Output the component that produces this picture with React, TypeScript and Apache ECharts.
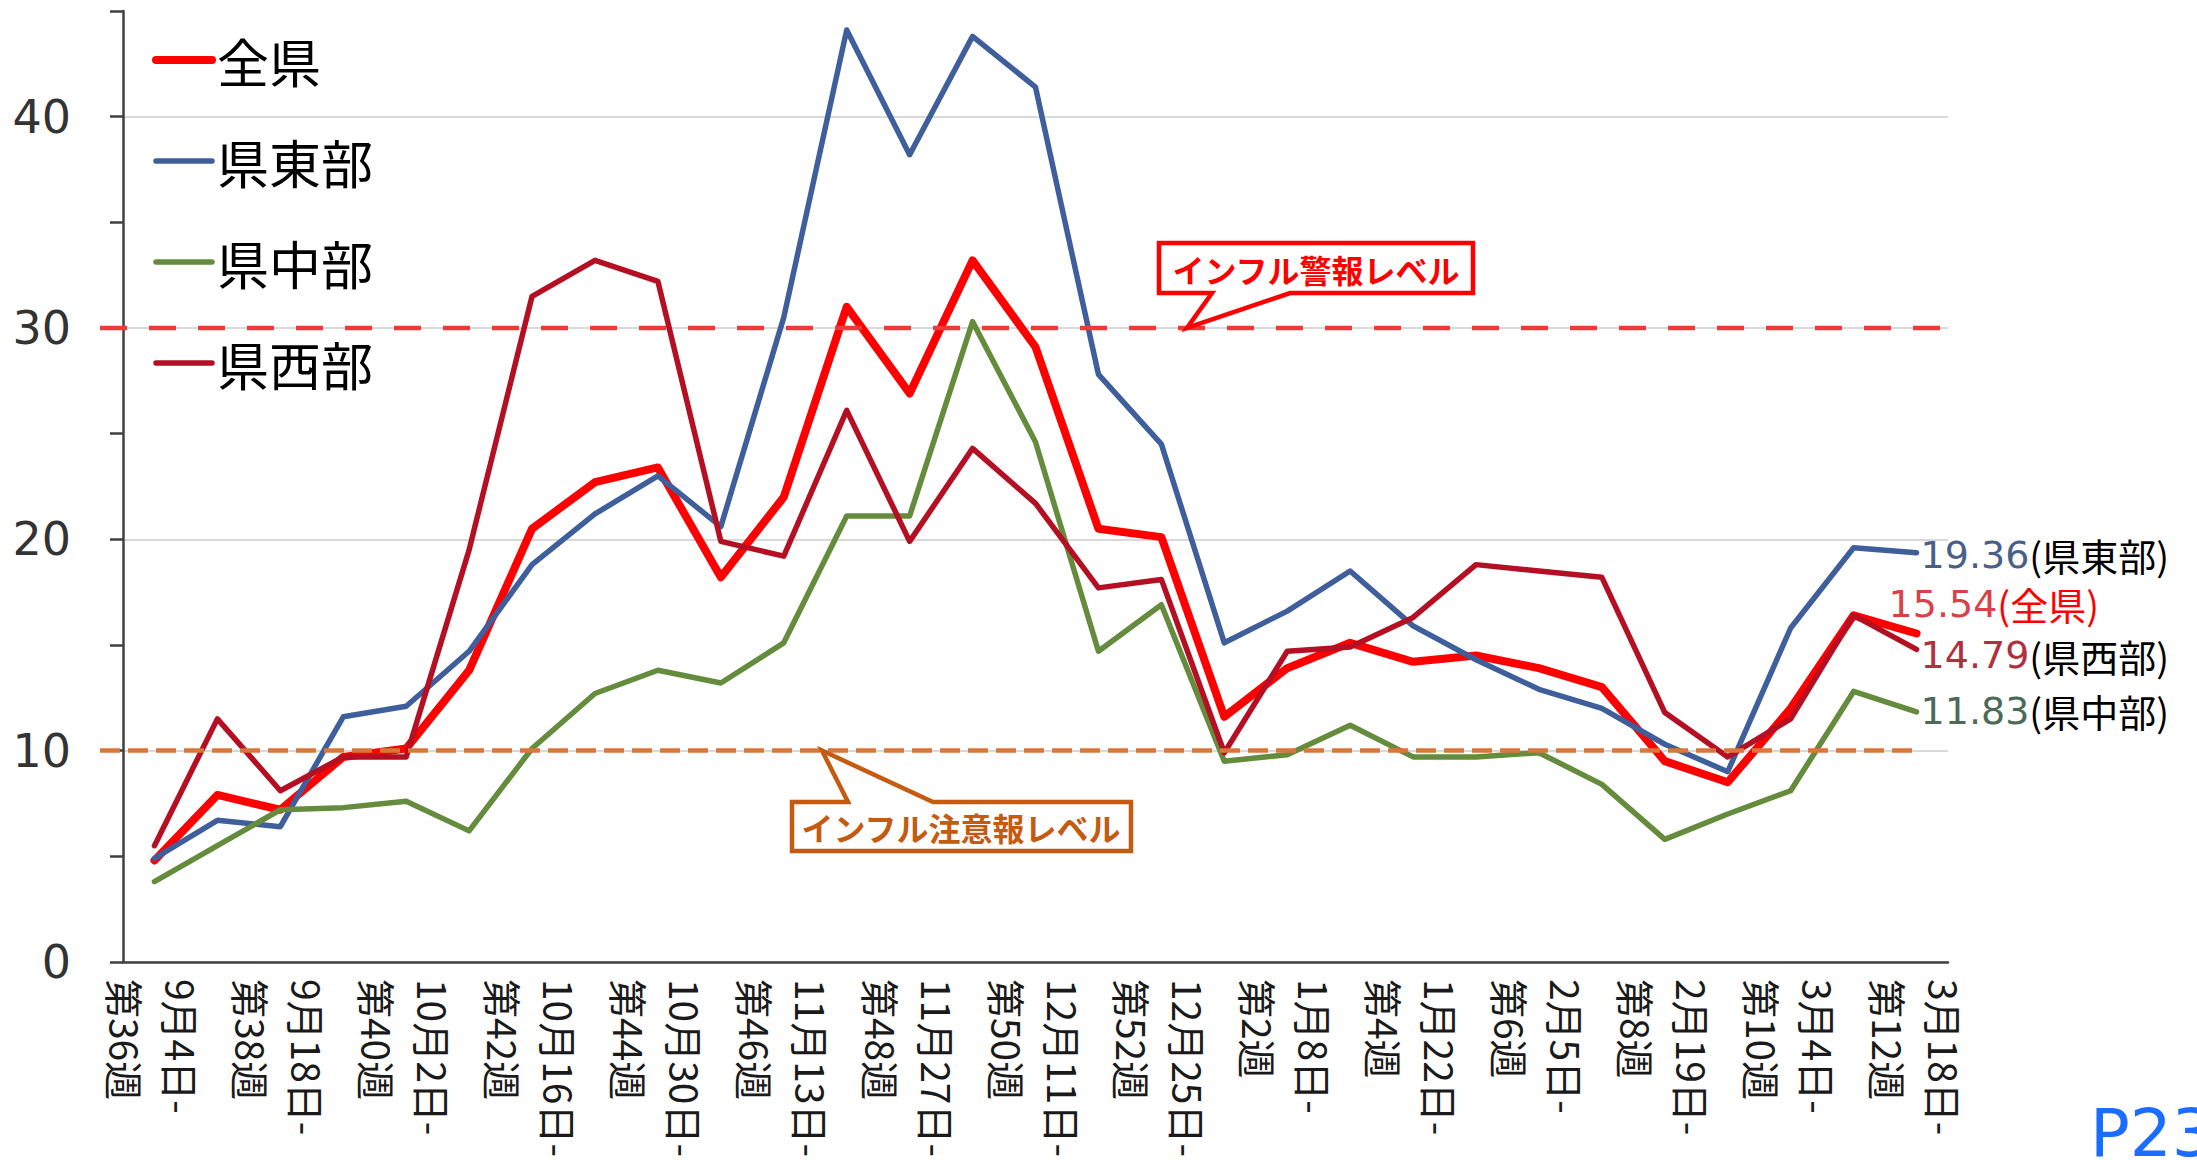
import React, { useEffect, useRef } from "react";
import * as echarts from "echarts";

// ---- data ----
const weekLabels = [
  "第36週", "第37週", "第38週", "第39週", "第40週", "第41週", "第42週", "第43週", "第44週",
  "第45週", "第46週", "第47週", "第48週", "第49週", "第50週", "第51週", "第52週",
  "第1週", "第2週", "第3週", "第4週", "第5週", "第6週", "第7週", "第8週", "第9週",
  "第10週", "第11週", "第12週",
];
const dateLabels = [
  "9月4日-", "9月11日-", "9月18日-", "9月25日-", "10月2日-", "10月9日-", "10月16日-",
  "10月23日-", "10月30日-", "11月6日-", "11月13日-", "11月20日-", "11月27日-", "12月4日-",
  "12月11日-", "12月18日-", "12月25日-", "1月1日-", "1月8日-", "1月15日-", "1月22日-",
  "1月29日-", "2月5日-", "2月12日-", "2月19日-", "2月26日-", "3月4日-", "3月11日-", "3月18日-",
];

const zenken = [4.8, 7.9, 7.2, 9.7, 10.1, 13.8, 20.5, 22.7, 23.4, 18.2, 22.0, 31.0, 26.9, 33.2, 29.1,
  20.5, 20.1, 11.6, 13.9, 15.1, 14.2, 14.5, 13.9, 13.0, 9.5, 8.5, 12.0, 16.4, 15.54];
const tobu = [4.9, 6.7, 6.4, 11.6, 12.1, 14.7, 18.8, 21.2, 23.0, 20.6, 30.5, 44.1, 38.2, 43.8, 41.4,
  27.8, 24.5, 15.1, 16.6, 18.5, 15.9, 14.3, 12.9, 12.0, 10.3, 9.0, 15.8, 19.6, 19.36];
const chubu = [3.8, 5.5, 7.2, 7.3, 7.6, 6.2, 10.1, 12.7, 13.8, 13.2, 15.1, 21.1, 21.1, 30.3, 24.6,
  14.7, 16.9, 9.5, 9.8, 11.2, 9.7, 9.7, 9.9, 8.4, 5.8, 7.0, 8.1, 12.8, 11.83];
const seibu = [5.5, 11.5, 8.1, 9.7, 9.7, 19.5, 31.5, 33.2, 32.2, 19.9, 19.2, 26.1, 19.9, 24.3, 21.7,
  17.7, 18.1, 9.9, 14.7, 14.9, 16.3, 18.8, 18.5, 18.2, 11.8, 9.7, 11.5, 16.4, 14.79];

const seriesNames = ["全県", "県東部", "県中部", "県西部"];
const warningLevel = 30;
const advisoryLevel = 10;
const yTicks = { min: 0, max: 45, step: 5, labelStep: 10 };

const CJK = "'Noto Sans CJK JP', 'Noto Sans', sans-serif";
const LAT = "'DejaVu Sans', sans-serif";

export default function App() {
  const ref = useRef<HTMLDivElement>(null);
  useEffect(() => {
    const chart = echarts.init(ref.current!, null, { renderer: "svg" });
    const endLabel = (vals: number[], name: string, numColor: string, nameColor: string, offset: number[]) => ({
      show: true,
      distance: 4,
      offset,
      formatter: () => `{v|${vals[vals.length - 1].toFixed(2)}}{s|(${name})}`,
      rich: {
        v: { fontFamily: LAT, fontSize: 38, lineHeight: 34, color: numColor },
        s: { fontFamily: CJK, fontSize: 38, lineHeight: 34, color: nameColor },
      },
    });
    const mk = (name: string, data: number[], color: string, width: number, lbl: any) => ({
      name,
      type: "line",
      data,
      symbol: "none",
      showSymbol: false,
      lineStyle: { color, width, join: "round", cap: "round" },
      itemStyle: { color },
      endLabel: lbl,
      labelLayout: { hideOverlap: false },
    });
    const option: any = {
      animation: false,
      backgroundColor: "#fff",
      grid: { left: 123, right: 249, top: 11, bottom: 189, containLabel: false },
      legend: {
        orient: "vertical",
        left: 152,
        top: 34,
        padding: 0,
        itemGap: 49,
        itemWidth: 56,
        itemHeight: 20,
        data: seriesNames,
        lineStyle: { width: "inherit" },
        itemStyle: { opacity: 0, color: "transparent", borderWidth: 0 },
        textStyle: { fontFamily: CJK, fontSize: 52, color: "#000" },
      },
      xAxis: {
        type: "category",
        data: weekLabels,
        boundaryGap: true,
        axisLine: { lineStyle: { color: "#404040", width: 2.5 } },
        axisTick: { interval: 0, alignWithLabel: false, length: 10, lineStyle: { color: "#404040", width: 2.5 } },
        axisLabel: {
          interval: 1,
          rotate: -90,
          margin: 17,
          fontFamily: CJK,
          fontSize: 39,
          lineHeight: 56,
          color: "#1a1a1a",
          formatter: (_v: string, i: number) => `${dateLabels[i]}\n${weekLabels[i]}`,
        },
        splitLine: { show: false },
      },
      yAxis: {
        type: "value",
        min: yTicks.min,
        max: yTicks.max,
        interval: yTicks.step,
        axisLine: { show: true, lineStyle: { color: "#404040", width: 2.5 } },
        axisTick: { show: true, length: 13, lineStyle: { color: "#404040", width: 2.5 } },
        axisLabel: {
          margin: 52,
          fontFamily: LAT,
          fontSize: 46,
          color: "#333",
          formatter: (v: number) => (v % yTicks.labelStep === 0 && v < yTicks.max ? String(v) : ""),
        },
        splitLine: { show: true, lineStyle: { color: ["#d9d9d9", "transparent"], width: 2 } },
      },
      series: [
        mk("全県", zenken, "#FF0000", 8, endLabel(zenken, "全県", "#D8404A", "#FF0000", [-32, -30])),
        mk("県東部", tobu, "#3F5E9C", 5.5, endLabel(tobu, "県東部", "#4A5F88", "#000", [0, 2])),
        mk("県中部", chubu, "#648C3C", 5.5, endLabel(chubu, "県中部", "#4C6A58", "#000", [0, -1])),
        mk("県西部", seibu, "#B40F23", 5.5, endLabel(seibu, "県西部", "#B0303E", "#000", [0, 6])),
      ],
    };
    chart.setOption(option);

    const y30 = chart.convertToPixel({ yAxisIndex: 0 }, warningLevel) as number;
    const y10 = chart.convertToPixel({ yAxisIndex: 0 }, advisoryLevel) as number;
    const red = "#FF0000";
    const orange = "#C55A11";
    chart.setOption({
      graphic: [
        { type: "line", z: 100, shape: { x1: 100, y1: y30, x2: 1948, y2: y30 }, style: { stroke: "#F03A3A", lineWidth: 4.5, lineDash: [27, 22] } },
        { type: "line", z: 100, shape: { x1: 100, y1: y10, x2: 1920, y2: y10 }, style: { stroke: "#D9773A", lineWidth: 4.5, lineDash: [20, 8] } },
        {
          type: "polygon", z: 110,
          shape: { points: [[1159, 243], [1473, 243], [1473, 293], [1290, 293], [1187, y30], [1212, 293], [1159, 293]] },
          style: { fill: "#fff", stroke: red, lineWidth: 4.5, lineJoin: "miter" },
        },
        {
          type: "text", z: 111, x: 1316, y: 269,
          style: { text: "インフル警報レベル", fill: red, font: `bold 32px ${CJK}`, textAlign: "center", textVerticalAlign: "middle" },
        },
        {
          type: "polygon", z: 110,
          shape: { points: [[792, 802], [848, 802], [822, y10], [933, 802], [1131, 802], [1131, 851], [792, 851]] },
          style: { fill: "#fff", stroke: orange, lineWidth: 4.5, lineJoin: "miter" },
        },
        {
          type: "text", z: 111, x: 961, y: 827,
          style: { text: "インフル注意報レベル", fill: orange, font: `bold 32px ${CJK}`, textAlign: "center", textVerticalAlign: "middle" },
        },
        {
          type: "text", z: 111, x: 2090, y: 1100,
          style: { text: "P23", fill: "#1A6DFF", font: `66px ${LAT}`, textAlign: "left", textVerticalAlign: "top" },
        },
      ],
    });
    return () => chart.dispose();
  }, []);
  return <div ref={ref} style={{ position: "fixed", left: 0, top: 0, width: "2197px", height: "1160px", background: "#fff" }} />;
}
